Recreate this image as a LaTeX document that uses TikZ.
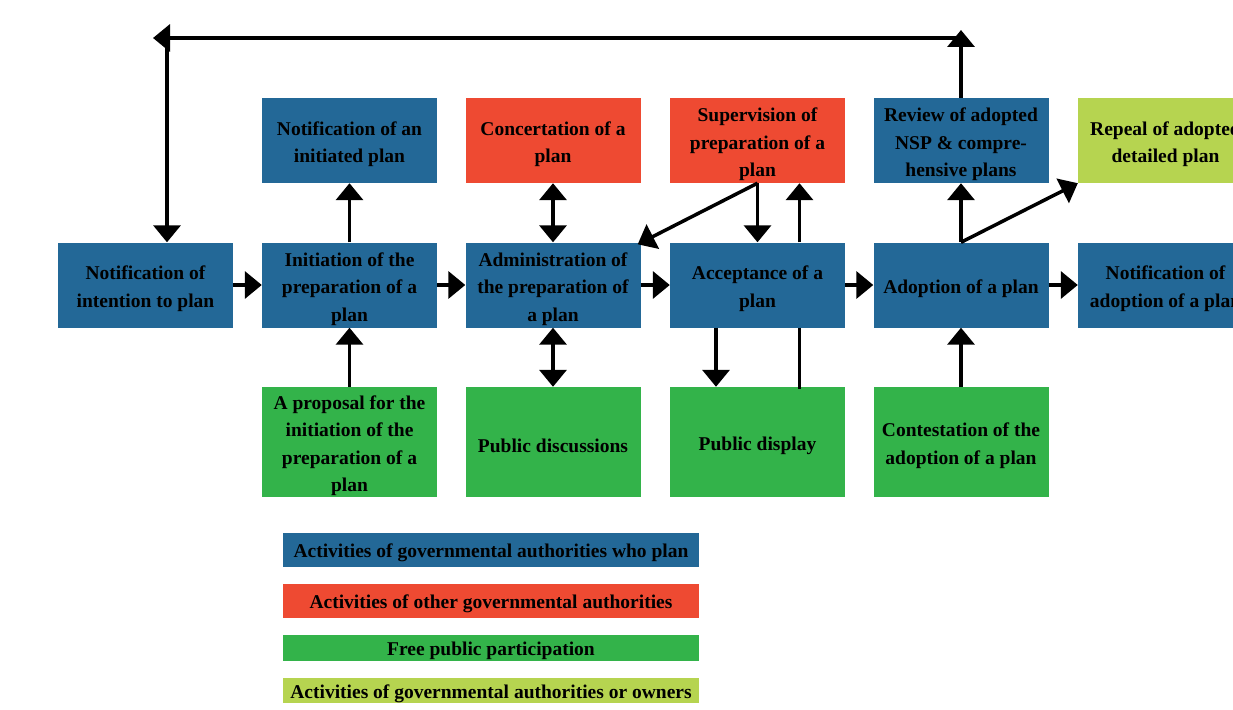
\documentclass[tikz,border=0pt]{standalone}
\usepackage{fontspec}
\setmainfont{Liberation Serif}
\usetikzlibrary{arrows.meta}
\definecolor{cblue}{RGB}{35,104,151}
\definecolor{cred}{RGB}{238,74,50}
\definecolor{cgreen}{RGB}{51,179,74}
\definecolor{clime}{RGB}{182,212,80}
\newcommand\st{\rule{0pt}{21.5pt}}
\tikzset{
  box/.style={rectangle, minimum width=175pt, minimum height=85pt, inner sep=0pt, align=center,
    font=\fontsize{19.5}{27.5}\selectfont\bfseries, text=black},
  tallbox/.style={box, minimum height=110pt},
  gov/.style={fill=cblue},
  other/.style={fill=cred},
  pub/.style={fill=cgreen},
  own/.style={fill=clime},
  legend/.style={rectangle, minimum width=416pt, inner sep=0pt, align=center,
    font=\fontsize{19.5}{24}\selectfont\bfseries},
  tip/.tip={Triangle[width=27pt,length=17pt]},
  arr/.style={line width=3.5pt, -tip},
  darr/.style={line width=3.5pt, tip-tip},
  ln/.style={line width=3.5pt},
}
\begin{document}
\begin{tikzpicture}[x=1pt,y=-1pt]
\clip (0,0) rectangle (1233,709);
\fill[white] (0,0) rectangle (1233,709);
% row 1
\node[box,gov]   (notinit) at (349.5,140.5) {\st Notification of an\\initiated plan};
\node[box,other] (concert) at (553,140.5) {\st Concertation of a\\plan};
\node[box,other] (superv)  at (757.5,140.5) {\st Supervision of\\preparation of a\\plan};
\node[box,gov]   (review)  at (961,140.5) {\st Review of adopted\\NSP \& compre-\\hensive plans};
\node[box,own]   (repeal)  at (1165.5,140.5) {\st Repeal of adopted\\detailed plan};
% row 2
\node[box,gov] (notint) at (145.5,285) {\st Notification of\\intention to plan};
\node[box,gov] (initiation) at (349.5,285) {\st Initiation of the\\preparation of a\\plan};
\node[box,gov] (admin) at (553,285) {\st Administration of\\the preparation of\\a plan};
\node[box,gov] (accept) at (757.5,285) {\st Acceptance of a\\plan};
\node[box,gov] (adopt) at (961,285) {\st Adoption of a plan};
\node[box,gov] (notadopt) at (1165.5,285) {\st Notification of\\adoption of a plan};
% row 3
\node[tallbox,pub] (proposal) at (349.5,442) {\st A proposal for the\\initiation of the\\preparation of a\\plan};
\node[tallbox,pub] (discuss) at (553,442) {\st Public discussions};
\node[tallbox,pub] (display) at (757.5,442) {\st Public display};
\node[tallbox,pub] (contest) at (961,442) {\st Contestation of the\\adoption of a plan};
% legend
\node[legend,gov,minimum height=34pt] (l1) at (491,550) {\rule{0pt}{20pt}Activities of governmental authorities who plan};
\node[legend,other,minimum height=34pt] (l2) at (491,601) {\rule{0pt}{20pt}Activities of other governmental authorities};
\node[legend,pub,minimum height=26pt] (l3) at (491,648) {\rule{0pt}{20pt}Free public participation};
\node[legend,own,minimum height=25pt] (l4) at (491,690.5) {\rule{0pt}{20pt}Activities of governmental authorities or owners};
% horizontal flow
\draw[arr] (notint) -- (initiation);
\draw[arr] (initiation) -- (admin);
\draw[arr] (admin) -- (accept);
\draw[arr] (accept) -- (adopt);
\draw[arr] (adopt) -- (notadopt);
% verticals
\draw[arr] (initiation.north) -- (notinit.south);
\draw[arr] (proposal.north) -- (initiation.south);
\draw[darr] (concert.south) -- (admin.north);
\draw[darr] (admin.south) -- (discuss.north);
\draw[arr] (superv.south) -- (accept.north);
\draw[arr] (superv.south) -- ([xshift=-3pt,yshift=-2pt]admin.north east);
\draw[arr] ([xshift=42pt]accept.north) -- ([xshift=42pt]superv.south);
\draw[arr] ([xshift=-41.5pt]accept.south) -- ([xshift=-41.5pt]display.north);
\draw[ln] ([xshift=42pt]accept.south) -- ([xshift=42pt,yshift=-2pt]display.north);
\draw[arr] (contest.north) -- (adopt.south);
\draw[arr] (adopt.north) -- (review.south);
\draw[arr] (adopt.north) -- (repeal.south west);
% feedback loop
\coordinate (tr) at (961,30);
\coordinate (tl) at (153,38);
\coordinate (tc) at (167,38);
\draw[arr] (review.north) -- (tr);
\draw[arr] (961,38) -- (tl);
\draw[arr] (tc) -- ([xshift=21.5pt]notint.north);
\end{tikzpicture}
\end{document}
